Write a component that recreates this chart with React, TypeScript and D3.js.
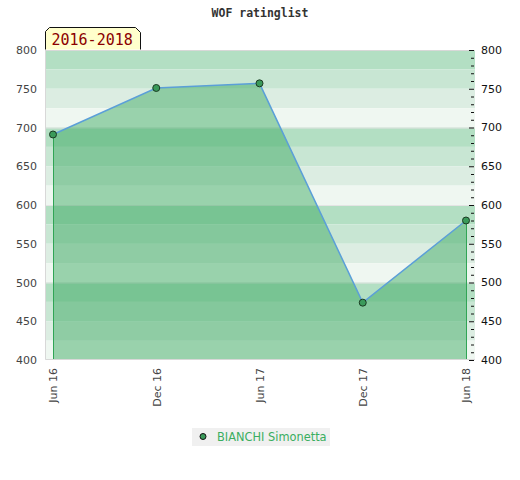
import { useEffect, useRef } from "react";
import * as d3 from "d3";

// ratings per half year
const periods = ["Jun 16", "Dec 16", "Jun 17", "Dec 17", "Jun 18"];
const ratings = [691, 751, 757, 474, 580];
const yTicks = [400, 450, 500, 550, 600, 650, 700, 750, 800];
const bandColors = ["#b3dfc3", "#c8e6d3", "#dcede2", "#eff7f1"];
const playerName = "BIANCHI Simonetta";
const rangeLabel = "2016-2018";
const chartTitle = "WOF ratinglist";

export default function App() {
  const chartRef = useRef<SVGSVGElement>(null);

  const W = 520;
  const H = 480;
  const margin = { top: 50, right: 45, bottom: 120, left: 45 };
  const width = W - margin.left - margin.right;
  const height = H - margin.top - margin.bottom;

  useEffect(() => {
    const root = d3.select(chartRef.current);
    root.selectAll("*").remove();

    const x = d3.scalePoint<string>().domain(periods).range([8, width - 9]);
    const y = d3.scaleLinear().domain([400, 800]).range([height, 0]);

    // Title
    root
      .append("text")
      .attr("x", 260)
      .attr("y", 17)
      .attr("text-anchor", "middle")
      .style("font-family", "'DejaVu Sans Mono', monospace")
      .style("font-weight", "bold")
      .style("font-size", "11.5px")
      .style("fill", "#333")
      .text(chartTitle);

    const svg = root
      .append("g")
      .attr("transform", `translate(${margin.left},${margin.top})`);

    // Background bands, 25 points each
    const bands = d3.range(800, 400, -25);
    svg
      .selectAll(".band")
      .data(bands)
      .enter()
      .append("rect")
      .attr("x", 0)
      .attr("width", width)
      .attr("y", (d) => y(d))
      .attr("height", (d) => y(d - 25) - y(d))
      .attr("fill", (_d, i) => bandColors[i % 4]);

    // light grid every 100
    svg
      .selectAll(".grid")
      .data([500, 600, 700])
      .enter()
      .append("line")
      .attr("x1", 0)
      .attr("x2", width)
      .attr("y1", (d) => y(d) + 0.5)
      .attr("y2", (d) => y(d) + 0.5)
      .attr("stroke", "#e4e4e4")
      .attr("stroke-width", 1);

    // Area
    const area = d3
      .area<number>()
      .x((_d, i) => x(periods[i])!)
      .y0(height)
      .y1((d) => y(d));
    svg
      .append("path")
      .datum(ratings)
      .attr("d", area)
      .attr("fill", "rgb(48,163,88)")
      .attr("fill-opacity", 0.45);

    // area side edges
    const last = ratings.length - 1;
    svg
      .selectAll(".edge")
      .data([0, last])
      .enter()
      .append("line")
      .attr("x1", (i) => Math.round(x(periods[i])!) + 0.5)
      .attr("x2", (i) => Math.round(x(periods[i])!) + 0.5)
      .attr("y1", (i) => y(ratings[i]))
      .attr("y2", height)
      .attr("stroke", "#30a555")
      .attr("stroke-width", 1);

    // plot border (top, left, bottom)
    svg
      .append("path")
      .attr("d", `M${width},0.5H0.5V${height - 0.5}H${width}`)
      .attr("fill", "none")
      .attr("stroke", "#d8d8d8")
      .attr("stroke-width", 1);

    // Line
    const line = d3
      .line<number>()
      .x((_d, i) => x(periods[i])!)
      .y((d) => y(d));
    svg
      .append("path")
      .datum(ratings)
      .attr("d", line)
      .attr("fill", "none")
      .attr("stroke", "#5b9fd8")
      .attr("stroke-width", 1.5);

    // Points
    svg
      .selectAll(".pt")
      .data(ratings)
      .enter()
      .append("circle")
      .attr("cx", (_d, i) => x(periods[i])!)
      .attr("cy", (d) => y(d))
      .attr("r", 3.5)
      .attr("fill", "#3a9a5a")
      .attr("stroke", "#1a3a22")
      .attr("stroke-width", 1);

    // Left axis labels
    const left = svg
      .append("g")
      .call(d3.axisLeft(y).tickValues(yTicks).tickSize(0).tickPadding(8));
    left.select(".domain").remove();
    left
      .selectAll("text")
      .style("font-family", "'DejaVu Sans', sans-serif")
      .style("font-size", "11px")
      .style("fill", "#444");

    // Right axis: minor ticks every 10, major every 50
    const rightMinor = svg
      .append("g")
      .attr("transform", `translate(${width - 1},0)`)
      .call(
        d3
          .axisLeft(y)
          .tickValues(d3.range(410, 800, 10).filter((v) => v % 50 !== 0))
          .tickSize(3)
          .tickFormat(() => "")
      );
    rightMinor.select(".domain").remove();
    rightMinor.selectAll("line").attr("stroke", "#111");

    const rightMajor = svg
      .append("g")
      .attr("transform", `translate(${width - 1},0)`)
      .call(
        d3
          .axisLeft(y)
          .tickValues(yTicks)
          .tickSize(5)
          .tickFormat(() => "")
      );
    rightMajor.select(".domain").remove();
    rightMajor.selectAll("line").attr("stroke", "#111");

    svg
      .selectAll(".rlabel")
      .data(yTicks)
      .enter()
      .append("text")
      .attr("x", width + 6)
      .attr("y", (d) => y(d))
      .attr("dy", "0.35em")
      .style("font-family", "'DejaVu Sans', sans-serif")
      .style("font-size", "11px")
      .style("fill", "#111")
      .text((d) => d);

    // X axis labels, rotated
    const bottom = svg
      .append("g")
      .attr("transform", `translate(0,${height})`)
      .call(d3.axisBottom(x).tickSize(0).tickPadding(0));
    bottom.select(".domain").remove();
    bottom
      .selectAll("text")
      .attr("transform", "rotate(-90)")
      .attr("text-anchor", "end")
      .attr("x", -8)
      .attr("y", 0)
      .attr("dy", "0.35em")
      .style("font-family", "'DejaVu Sans', sans-serif")
      .style("font-size", "11px")
      .style("fill", "#444");

    // Range label tab
    const tab = root.append("g").attr("transform", "translate(45.5,27.5)");
    tab
      .append("path")
      .attr("d", "M0,22V4L4,0H90L95,5V22")
      .attr("fill", "#ffffcc")
      .attr("stroke", "#111")
      .attr("stroke-width", 1);
    tab
      .append("text")
      .attr("x", 6)
      .attr("y", 17)
      .style("font-family", "'DejaVu Sans Mono', monospace")
      .style("font-size", "15px")
      .style("fill", "#8b0000")
      .text(rangeLabel);

    // Legend
    const legend = root.append("g").attr("transform", "translate(192,428)");
    legend
      .append("rect")
      .attr("width", 138)
      .attr("height", 18)
      .attr("fill", "#f0f0f0");
    legend
      .append("circle")
      .attr("cx", 11)
      .attr("cy", 8.5)
      .attr("r", 3)
      .attr("fill", "#3a9a5a")
      .attr("stroke", "#111")
      .attr("stroke-width", 1);
    legend
      .append("text")
      .attr("x", 25)
      .attr("y", 12.5)
      .style("font-family", "'DejaVu Sans', sans-serif")
      .style("font-size", "11.4px")
      .style("fill", "#3aae5f")
      .text(playerName);
  }, []);

  return (
    <svg
      ref={chartRef}
      width={W}
      height={H}
      style={{ position: "absolute", left: 0, top: 0, background: "#fff" }}
    />
  );
}
